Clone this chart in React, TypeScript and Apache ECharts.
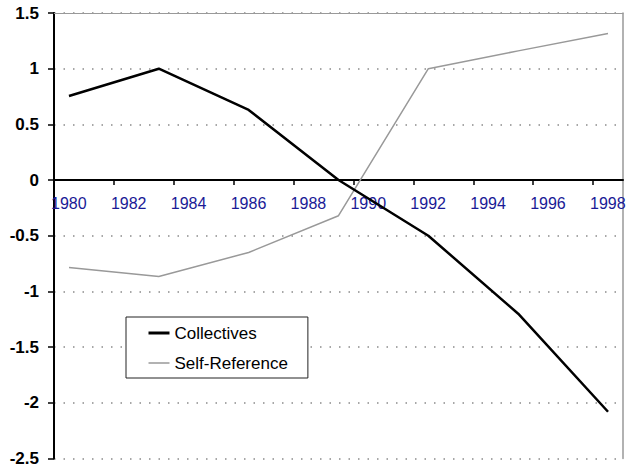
import React, { useEffect, useRef } from "react";
import * as echarts from "echarts";

const years = [1980.5, 1983.5, 1986.5, 1989.5, 1992.5, 1995.5, 1998.5];
const collectives = [0.755, 1.0, 0.63, 0.0, -0.5, -1.2, -2.08];
const selfReference = [-0.785, -0.865, -0.65, -0.32, 1.0, 1.16, 1.315];
const xMin = 1980;
const xMax = 1999;
const yMin = -2.5;
const yMax = 1.5;

const FONT = "'Liberation Sans', Arial, sans-serif";
const GRID_TOP = 13;
const GRID_BOTTOM = 8.5;
const H = 467;

export default function App() {
  const ref = useRef<HTMLDivElement>(null);
  useEffect(() => {
    if (!ref.current) return;
    const chart = echarts.init(ref.current, undefined, { renderer: "svg" });
    const pairs = (vals: number[]) => years.map((y, i) => [y, vals[i]]);
    const plotH = H - GRID_TOP - GRID_BOTTOM;
    const bottomY = H - GRID_BOTTOM;
    const zeroY = GRID_TOP + (yMax / (yMax - yMin)) * plotH;
    const labelMargin = 15 - (bottomY - zeroY);
    chart.setOption({
      animation: false,
      backgroundColor: "#ffffff",
      grid: { left: 54, right: 4, top: GRID_TOP, bottom: GRID_BOTTOM, containLabel: false, outerBoundsMode: "none" },
      xAxis: [
        {
          type: "value",
          min: xMin,
          max: xMax,
          interval: 2,
          axisLine: { onZero: true, lineStyle: { color: "#000", width: 2 } },
          axisTick: { show: true, inside: false, length: 5, lineStyle: { color: "#000", width: 1.5 } },
          axisLabel: {
            showMaxLabel: false,
            align: "left",
            margin: labelMargin,
            padding: [0, 0, 0, -3],
            color: "#1a1a96",
            fontSize: 16,
            fontFamily: FONT,
            formatter: (v: number) => String(v),
          },
          splitLine: { show: false },
        },
        {
          type: "value",
          position: "top",
          min: xMin,
          max: xMax,
          axisLine: { onZero: false, show: true, lineStyle: { color: "#999", width: 1 } },
          axisTick: { show: false },
          axisLabel: { show: false },
          splitLine: { show: false },
        },
      ],
      yAxis: [
        {
          type: "value",
          min: yMin,
          max: yMax,
          interval: 0.5,
          axisLine: { show: true, onZero: false, lineStyle: { color: "#000", width: 2 } },
          axisTick: { show: true, inside: false, length: 6, lineStyle: { color: "#000", width: 1.5 } },
          axisLabel: {
            margin: 15,
            color: "#000",
            fontSize: 17,
            fontWeight: "bold",
            fontFamily: FONT,
          },
          splitLine: {
            show: true,
            lineStyle: { color: "#8a8a8a", width: 1.5, type: [1.5, 8] },
          },
        },
        {
          type: "value",
          position: "right",
          min: yMin,
          max: yMax,
          axisLine: { show: true, onZero: false, lineStyle: { color: "#999", width: 1.5 } },
          axisTick: { show: false },
          axisLabel: { show: false },
          splitLine: { show: false },
        },
      ],
      legend: {
        orient: "vertical",
        left: 126,
        top: 317,
        padding: [7.5, 20, 6.5, 21],
        itemGap: 13,
        itemWidth: 21,
        itemHeight: 14,
        backgroundColor: "#fff",
        borderColor: "#222",
        borderWidth: 1,
        borderRadius: 0,
        itemStyle: { opacity: 0, color: "rgba(0,0,0,0)", borderWidth: 0 },
        textStyle: { fontSize: 17, color: "#000", fontFamily: FONT },
        data: [
          { name: "Collectives", lineStyle: { color: "#000", width: 3 } },
          { name: "Self-Reference", lineStyle: { color: "#999", width: 1.5 } },
        ],
      },
      series: [
        {
          name: "Collectives",
          type: "line",
          data: pairs(collectives),
          symbol: "none",
          lineStyle: { color: "#000", width: 2.5 },
          itemStyle: { color: "#000" },
          z: 3,
        },
        {
          name: "Self-Reference",
          type: "line",
          data: pairs(selfReference),
          symbol: "none",
          lineStyle: { color: "#999", width: 1.5 },
          itemStyle: { color: "#999" },
          z: 2,
        },
      ],
    });
    return () => chart.dispose();
  }, []);
  return (
    <div
      ref={ref}
      style={{ position: "fixed", left: 0, top: 0, width: 627, height: H, background: "#fff" }}
    />
  );
}
